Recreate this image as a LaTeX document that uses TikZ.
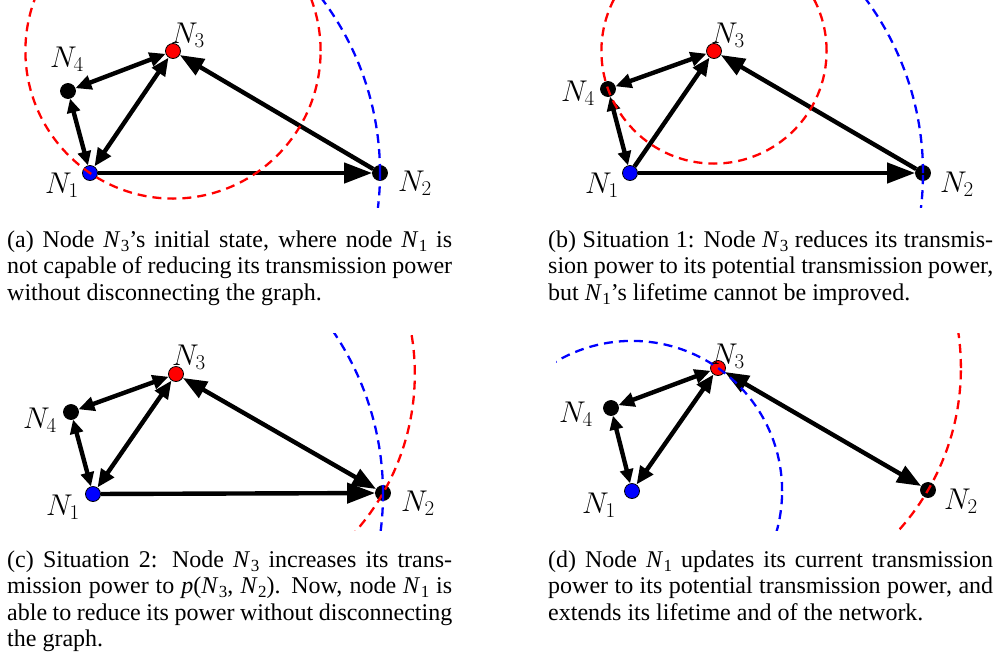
\documentclass[tikz,border=0pt]{standalone}
\usepackage{fix-cm}
\usepackage[no-math]{fontspec}
\setmainfont{Liberation Serif}
\usetikzlibrary{arrows.meta}
\newcommand{\Nsub}[1]{\textit{N}\kern0.02em\raisebox{-0.2em}{\fontsize{17}{17}\selectfont #1}}
\tikzset{
  gdot/.style={circle, draw=black, line width=0.8pt, inner sep=0pt, minimum size=15pt, fill=#1},
  link/.style={line width=4.4pt, draw=black},
  szA/.style={>={Triangle[length=28pt,width=20pt]}},
  szB/.style={>={Triangle[length=24pt,width=18pt]}},
  szC/.style={>={Triangle[length=18pt,width=15pt]}},
  szD/.style={>={Triangle[length=16pt,width=14pt]}},
  szE/.style={>={Triangle[length=14pt,width=13pt]}},
  rdash/.style={draw=red, line width=2.3pt, dash pattern=on 9pt off 6pt},
  bdash/.style={draw=blue, line width=2.3pt, dash pattern=on 9pt off 6pt},
  lab/.style={font=\fontsize{30}{30}\selectfont, inner sep=0pt},
  captext/.style={font=\fontsize{24}{26.5}\selectfont, inner sep=0pt, anchor=base west}
}
\begin{document}
\begin{tikzpicture}[x=1pt, y=-1pt]
\useasboundingbox (0,0) rectangle (996,662);

% ---------------- (a) ----------------
\node[gdot=blue]  (a1) at (90,173) {};
\node[gdot=black] (a2) at (380,173) {};
\node[gdot=red]   (a3) at (173,51) {};
\node[gdot=black] (a4) at (68,91) {};
\draw[link, szE, <->] (a1) -- (a4);
\draw[link, szC, <->] (a1) -- (a3);
\draw[link, szD, <->] (a4) -- (a3);
\draw[link, szB, ->] (a2) -- (a3);
\draw[link, szA, ->] (a1) -- (a2);
\begin{scope}
  \clip (0,0) rectangle (500,207);
  \draw[rdash] (a3.center) circle[radius=147.6pt];
  \draw[bdash] (a1.center) circle[radius=290pt];
\end{scope}
\node[lab] (la1) at (62,185) {$N_1$};
\node[lab] (la2) at (415,183) {$N_2$};
\node[lab] (la3) at (188,35) {$N_3$};
\node[lab] (la4) at (67,59) {$N_4$};

% ---------------- (b) ----------------
\node[gdot=blue]  (b1) at (630,173) {};
\node[gdot=black] (b2) at (923,173) {};
\node[gdot=red]   (b3) at (714,51) {};
\node[gdot=black] (b4) at (608,89) {};
\draw[link, szE, <->] (b1) -- (b4);
\draw[link, szC, ->] (b1) -- (b3);
\draw[link, szD, <->] (b4) -- (b3);
\draw[link, szB, ->] (b2) -- (b3);
\draw[link, szA, ->] (b1) -- (b2);
\begin{scope}
  \clip (500,0) rectangle (996,207);
  \draw[rdash] (b3.center) circle[radius=112.6pt];
  \draw[bdash] (b1.center) circle[radius=293pt];
\end{scope}
\node[lab] (lb1) at (602,185) {$N_1$};
\node[lab] (lb2) at (957,184) {$N_2$};
\node[lab] (lb3) at (728,35) {$N_3$};
\node[lab] (lb4) at (578,93) {$N_4$};

% ---------------- (c) ----------------
\node[gdot=blue]  (c1) at (93,494) {};
\node[gdot=black] (c2) at (383,493) {};
\node[gdot=red]   (c3) at (176,374) {};
\node[gdot=black] (c4) at (71,412) {};
\draw[link, szE, <->] (c1) -- (c4);
\draw[link, szC, <->] (c1) -- (c3);
\draw[link, szD, <->] (c4) -- (c3);
\draw[link, szB, <->] (c3) -- (c2);
\draw[link, szA, ->] (c1) -- (c2);
\begin{scope}
  \clip (0,333) rectangle (500,530);
  \draw[rdash] (c3.center) circle[radius=238.8pt];
  \draw[bdash] (c1.center) circle[radius=290pt];
\end{scope}
\node[lab] (lc1) at (63,507) {$N_1$};
\node[lab] (lc2) at (418,503) {$N_2$};
\node[lab] (lc3) at (189,357) {$N_3$};
\node[lab] (lc4) at (40,420) {$N_4$};

% ---------------- (d) ----------------
\node[gdot=blue]  (d1) at (632,491) {};
\node[gdot=black] (d2) at (928,490) {};
\node[gdot=red]   (d3) at (718,368) {};
\node[gdot=black] (d4) at (611,408) {};
\draw[link, szE, <->] (d1) -- (d4);
\draw[link, szC, <->] (d1) -- (d3);
\draw[link, szD, <->] (d4) -- (d3);
\draw[link, szB, <->] (d3) -- (d2);
\begin{scope}
  \clip (556,333) rectangle (996,530);
  \draw[rdash] (d3.center) circle[radius=242.9pt];
  \draw[bdash] (d1.center) circle[radius=150.1pt];
\end{scope}
\node[lab] (ld1) at (599,505) {$N_1$};
\node[lab] (ld2) at (961,501) {$N_2$};
\node[lab] (ld3) at (728,356) {$N_3$};
\node[lab] (ld4) at (576,414) {$N_4$};

% ---------------- captions ----------------
\node[captext] (ca1) at (7,247) {\hbox to 445pt{(a) Node \Nsub{3}'s initial state, where node \Nsub{1} is}};
\node[captext] (ca2) at (7,273) {\hbox to 445pt{not capable of reducing its transmission power}};
\node[captext] (ca3) at (7,300) {without disconnecting the graph.};

\node[captext] (cb1) at (548,247) {\hbox to 445pt{(b) Situation 1: Node \Nsub{3} reduces its transmis-}};
\node[captext] (cb2) at (548,273) {\hbox to 445pt{sion power to its potential transmission power,}};
\node[captext] (cb3) at (548,300) {but \Nsub{1}'s lifetime cannot be improved.};

\node[captext] (cc1) at (7,567) {\hbox to 445pt{(c) Situation 2: Node \Nsub{3} increases its trans-}};
\node[captext] (cc2) at (7,593) {\hbox to 445pt{mission power to \textit{p}(\Nsub{3}, \Nsub{2}). Now, node \Nsub{1} is}};
\node[captext] (cc3) at (7,620) {\hbox to 445pt{able to reduce its power without disconnecting}};
\node[captext] (cc4) at (7,646) {the graph.};

\node[captext] (cd1) at (548,567) {\hbox to 445pt{(d) Node \Nsub{1} updates its current transmission}};
\node[captext] (cd2) at (548,593) {\hbox to 445pt{power to its potential transmission power, and}};
\node[captext] (cd3) at (548,620) {extends its lifetime and of the network.};
\end{tikzpicture}
\end{document}
